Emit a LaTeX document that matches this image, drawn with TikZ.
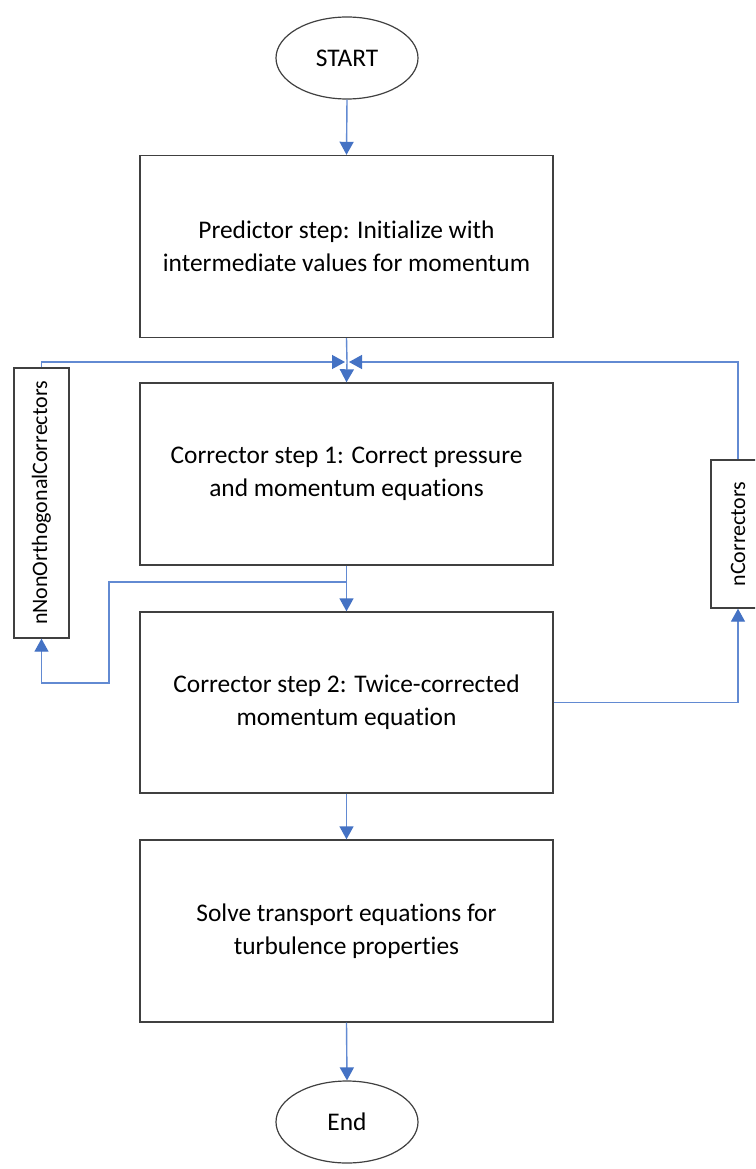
\documentclass[tikz,border=0pt]{standalone}
\usepackage{fontspec}
\setmainfont[Ligatures=NoCommon]{Carlito}
\usetikzlibrary{arrows.meta,shapes.geometric}
\definecolor{flowblue}{RGB}{68,114,196}
\definecolor{linkblue}{RGB}{98,138,210}
\definecolor{boxgray}{RGB}{64,64,64}
\begin{document}
\begin{tikzpicture}[x=1pt,y=-1pt,
  txt/.style={font=\fontsize{25.4}{33}\selectfont, align=center},
  sidetxt/.style={font=\fontsize{22}{30}\selectfont},
  stepbox/.style={draw=boxgray, line width=1.4pt, fill=white, minimum width=413pt, minimum height=182pt, inner sep=0pt, txt},
  termnode/.style={ellipse, draw=boxgray, line width=1.2pt, fill=white, minimum width=142pt, minimum height=82pt, inner sep=0pt, txt},
  sidebox/.style={draw=boxgray, line width=1.4pt, fill=white, inner sep=0pt},
  conn/.style={draw=linkblue, line width=1.4pt},
  arr/.style={conn, -{Triangle[length=13pt,width=14pt,color=flowblue,fill=flowblue]}}
]
\clip (0,0) rectangle (755,1169);
\fill[white] (0,0) rectangle (755,1169);

\node[termnode] (start) at (347,58) {START};
\node[stepbox] (box1) at (346.5,246.5) {Predictor step: Initialize with\\intermediate values for momentum};
\node[stepbox] (box2) at (346.5,474) {Corrector step 1: Correct pressure\\and momentum equations};
\node[stepbox, minimum height=181pt] (box3) at (346.5,702.5) {Corrector step 2: Twice-corrected\\momentum equation};
\node[stepbox] (box4) at (346.5,931) {Solve transport equations for\\turbulence properties};
\node[termnode] (end) at (347,1122) {End};

\node[sidebox, minimum width=55pt, minimum height=270pt] (nno) at (41.5,503) {};
\node[sidetxt, rotate=90] (nnolabel) at (nno.center) {nNonOrthogonalCorrectors};
\node[sidebox, minimum width=54pt, minimum height=148pt] (nco) at (738,534) {};
\node[sidetxt, rotate=90] (ncolabel) at (nco.center) {nCorrectors};

\coordinate (J) at (347,362);
\coordinate (JL) at (345,362);
\coordinate (JR) at (349,362);
\coordinate (B) at (347,582);
\coordinate (L1) at (109,582);
\coordinate (L2) at (109,683);

\draw[arr] (start.south) -- (box1.north);
\draw[conn] (box1.south) -- (J);
\draw[arr] (J) -- (box2.north);
\draw[arr] (nno.north) |- (JL);
\draw[arr] (nco.north) |- (JR);
\draw[arr] (box2.south) -- (box3.north);
\draw[arr] (B) -- (L1) -- (L2) -| (nno.south);
\draw[arr] (box3.east) -| (nco.south);
\draw[arr] (box3.south) -- (box4.north);
\draw[arr] (box4.south) -- (end.north);
\end{tikzpicture}
\end{document}
